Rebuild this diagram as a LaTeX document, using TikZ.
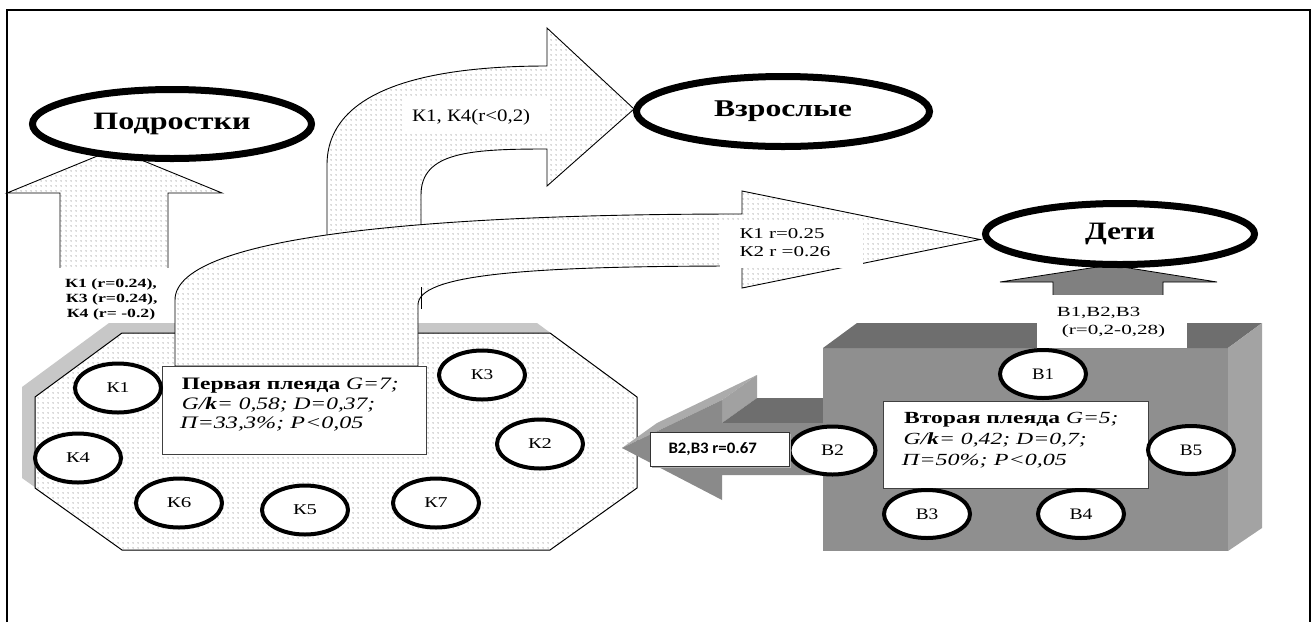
\documentclass[tikz,border=0pt]{standalone}
\usepackage{fontspec}
\setmainfont{Liberation Serif}
\newfontfamily\calib{Carlito}
\usepackage{graphicx}
\usetikzlibrary{shapes.geometric,patterns.meta}
\newcommand\fw[2]{\resizebox{#1pt}{\height}{#2}}
\newcommand\fsz[1]{\fontsize{#1pt}{#1pt}\selectfont}
\tikzdeclarepattern{
  name=mydots,
  bounding box={(0pt,0pt) and (4.5pt,4.5pt)},
  tile size={(4.5pt,4.5pt)},
  code={\pgfpathcircle{\pgfpoint{2.25pt}{2.25pt}}{0.62pt}\pgfusepath{fill}}
}
\tikzset{
  dotfill/.style={draw=black, line width=0.9pt, preaction={fill=white}, pattern=mydots, pattern color=black!58},
  bigell/.style={ellipse, draw=black, line width=7pt, fill=white, inner sep=0pt},
  smell/.style={ellipse, draw=black, line width=4pt, fill=white, inner sep=0pt, minimum width=86pt, minimum height=49pt},
  plbox/.style={rectangle, fill=white, draw=black!75, line width=1pt, inner sep=0pt},
  lbl/.style={inner sep=0pt, anchor=base west},
}
\begin{document}
\begin{tikzpicture}[x=1pt,y=-1pt]
\useasboundingbox (0,0) rectangle (1314,622);
% frame
\draw[line width=2pt] (7,622) -- (7,10) -- (1310,10) -- (1310,622);

% arrow up to Podrostki
\draw[dotfill] (60,300) -- (60,193) -- (7,193) -- (114.5,149) -- (222,193) -- (168,193) -- (168,300) -- cycle;
\fill[white] (55,268) rectangle (174,321);
\node[lbl] (lk1) at (65,287.3) {\fsz{12.5}\bfseries\fw{91.7}{К1 (r=0.24),}};
\node[lbl] (lk3) at (65.7,302.7) {\fsz{12.5}\bfseries\fw{91.7}{К3 (r=0.24),}};
\node[lbl] (lk4) at (66.7,317.7) {\fsz{12.5}\bfseries\fw{88.3}{К4 (r= -0.2)}};
\node[bigell, minimum width=279pt, minimum height=69pt] (podr) at (172,124) {\fsz{25}\bfseries\fw{157}{Подростки}};

% curved arrow to Vzroslye
\draw[dotfill] (327,260) -- (327,165) .. controls (327,92) and (420,66) .. (547,66) -- (547,28) -- (634,109) -- (547,186) -- (547,149) .. controls (470,149) and (421,152) .. (421,195) -- (421,260) -- cycle;
\fill[white] (403,98) rectangle (550,133);
\node[lbl] (lvz) at (412,121.7) {\fsz{17.5}\fw{118}{К1, К4(r<0,2)}};
\node[bigell, minimum width=293pt, minimum height=70pt] (vzr) at (783,111.5) {\fsz{24}\bfseries\fw{138}{Взрослые}};

% octagon (first pleiad)
\fill[black!22] (109,323) -- (537,323) -- (624,387) -- (624,478) -- (537,540) -- (109,540) -- (22,478) -- (22,387) -- cycle;
\draw[dotfill, line width=1pt] (122,333) -- (550,333) -- (637,397) -- (637,488) -- (550,550) -- (122,550) -- (35,488) -- (35,397) -- cycle;

% long curved arrow to Deti
\draw[dotfill] (175,366) -- (175,300) .. controls (175,232) and (460,214) .. (742,214) -- (742,191) -- (980,239.5) -- (742,288) -- (742,266) .. controls (520,266) and (418,275) .. (418,305) -- (418,366) -- cycle;
\draw[line width=0.8pt] (421,287) -- (421,309);
\fill[white] (720,220) rectangle (863,268);
\node[lbl] (ld1) at (739.3,238.3) {\fsz{15}\fw{85}{К1 r=0.25}};
\node[lbl] (ld2) at (739.3,256) {\fsz{15}\fw{91}{К2 r =0.26}};

% gray arrow up to Deti
\draw[fill=black!50, draw=black, line width=0.8pt] (1053,300) -- (1053,282) -- (1000,282) -- (1110,265) -- (1217,282) -- (1163,282) -- (1163,300) -- cycle;
\node[bigell, minimum width=269pt, minimum height=61pt] (deti) at (1120,234) {\fsz{25}\bfseries\fw{70}{Дети}};

% 3D arrow to the left
\fill[black!33] (622,448) -- (722,400) -- (757,375) -- (657,423) -- cycle;
\fill[black!37] (722,400) -- (757,375) -- (757,398) -- (722,423) -- cycle;
\fill[black!57] (722,423) -- (757,398) -- (830,398) -- (830,423) -- cycle;
\fill[black!46] (622,448) -- (722,400) -- (722,423) -- (830,423) -- (830,475) -- (722,475) -- (722,500) -- cycle;

% 3D box (second pleiad)
\fill[black!44] (823,348) rectangle (1228,551);
\fill[black!57] (823,348) -- (857,323) -- (1262,323) -- (1228,348) -- cycle;
\fill[black!36] (1228,348) -- (1262,323) -- (1262,528) -- (1228,551) -- cycle;
\fill[white] (1037,295) rectangle (1187,348);
\node[lbl] (lb1) at (1056.7,316.7) {\fsz{14}\fw{83.3}{В1,В2,В3}};
\node[lbl] (lb2) at (1061.7,334.3) {\fsz{14}\fw{103.3}{(r=0,2-0,28)}};

% first pleiad box and K ellipses
\node[plbox, minimum width=264pt, minimum height=88pt] (p1) at (294,410) {};
\node[lbl] (p1a) at (181.7,389.3) {\fsz{17.5}\fw{216.7}{\textbf{Первая плеяда} \textit{G=7;}}};
\node[lbl] (p1b) at (181.7,409.3) {\fsz{17.5}\fw{193.3}{\textit{G/\textbf{k}= 0,58; D=0,37;}}};
\node[lbl] (p1c) at (180,428.3) {\fsz{17.5}\fw{183.3}{\textit{П=33,3\%; P<0,05}}};
\node[smell] (k1) at (118,388) {\fsz{15}\fw{23}{К1}};
\node[smell] (k4) at (78,458) {\fsz{15}\fw{24}{К4}};
\node[smell] (k6) at (179,503) {\fsz{15}\fw{24.5}{К6}};
\node[smell] (k5) at (305,510) {\fsz{15}\fw{24}{К5}};
\node[smell] (k7) at (436,503) {\fsz{15}\fw{23.5}{К7}};
\node[smell] (k3) at (482,375) {\fsz{15}\fw{22.5}{К3}};
\node[smell] (k2) at (540,444) {\fsz{15}\fw{24}{К2}};

% second pleiad box and B ellipses
\node[plbox, minimum width=265pt, minimum height=87pt] (p2) at (1015.5,444.5) {};
\node[lbl] (p2a) at (904,423.3) {\fsz{17}\fw{214.3}{\textbf{Вторая плеяда} \textit{G=5;}}};
\node[lbl] (p2b) at (903.3,444) {\fsz{17}\fw{183.3}{\textit{G/\textbf{k}= 0,42; D=0,7;}}};
\node[lbl] (p2c) at (901.7,465) {\fsz{17}\fw{165}{\textit{П=50\%; P<0,05}}};
\node[smell, minimum height=48pt] (b1) at (1043,374) {\fsz{16}\fw{22}{В1}};
\node[smell, minimum height=48pt] (b2) at (832.5,450.5) {\fsz{16}\fw{23}{В2}};
\node[smell, minimum height=48pt] (b5) at (1191,450) {\fsz{16}\fw{22.5}{В5}};
\node[smell, minimum height=48pt] (b3) at (927,514) {\fsz{16}\fw{22.5}{В3}};
\node[smell, minimum height=48pt] (b4) at (1081,514) {\fsz{16}\fw{23}{В4}};

% label of 3D arrow
\fill[black!30] (652,434) rectangle (791,468);
\node[rectangle, fill=white, draw=black!80, line width=0.9pt, minimum width=139pt, minimum height=34pt, inner sep=0pt] (lb23) at (719.5,449) {};
\node[lbl] (lb23t) at (668.3,453.3) {\calib\bfseries\fsz{16}\fw{88.3}{В2,В3 r=0.67}};
\end{tikzpicture}
\end{document}
